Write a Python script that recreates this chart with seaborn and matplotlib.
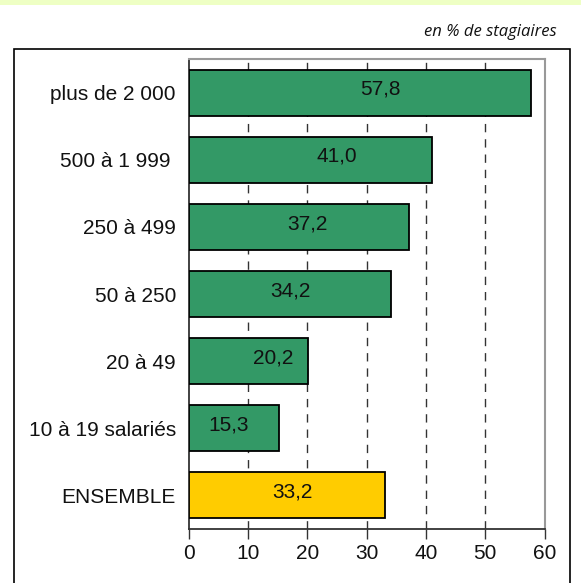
import matplotlib
matplotlib.use('Agg')
import matplotlib.pyplot as plt
import seaborn as sns
import pandas as pd

categories = ['plus de 2 000', '500 à 1 999 ', '250 à 499', '50 à 250',
              '20 à 49', '10 à 19 salariés', 'ENSEMBLE']
values = [57.8, 41.0, 37.2, 34.2, 20.2, 15.3, 33.2]
bar_colors = ['#339966'] * 6 + ['#FFCC00']
# where each value label sits inside its bar (fraction of bar length)
label_frac = [0.56, 0.61, 0.54, 0.50, 0.71, 0.44, 0.53]

df = pd.DataFrame({'cat': categories, 'val': values})

sns.set_theme(style='white')
plt.rcParams['font.family'] = ['Liberation Sans', 'DejaVu Sans']

fig = plt.figure(figsize=(5.81, 5.83), dpi=100)
W, H = 581, 583

# light band at the top (title area cut off)
fig.patches.append(plt.Rectangle((0, 1 - 5 / H), 1, 5 / H, transform=fig.transFigure,
                                 facecolor='#EEFFC4', edgecolor='none', zorder=0))
# outer frame
fig.patches.append(plt.Rectangle((14 / W, -0.01), (570 - 14) / W, (H - 49) / H + 0.01,
                                 transform=fig.transFigure, facecolor='none',
                                 edgecolor='black', linewidth=1.2, zorder=1))

fig.text(557 / W, 1 - 32 / H, 'en % de stagiaires', ha='right', va='center',
         fontsize=12, style='italic', family=['Open Sans', 'DejaVu Sans'], color='#111111')

ax = fig.add_axes([188.5 / W, 1 - 529 / H, (544.5 - 188.5) / W, (529 - 59) / H])

sns.barplot(data=df, x='val', y='cat', hue='cat', palette=bar_colors, legend=False,
            orient='h', width=0.685, saturation=1, edgecolor='black', linewidth=1.3,
            ax=ax, zorder=3)

for i, v in enumerate(values):
    ax.text(v * label_frac[i], i - 0.05, f'{v:.1f}'.replace('.', ','), ha='center',
            va='center', fontsize=15, color='#111111', zorder=4)

ax.set_xlim(0, 60)
ax.set_ylim(6.5, -0.5)
ax.set_xticks(range(0, 61, 10))
for x in range(10, 60, 10):
    ax.axvline(x, color='#333333', linewidth=1, dashes=(6, 5), zorder=1)

ax.set_xlabel('')
ax.set_ylabel('')
ax.tick_params(axis='x', which='both', bottom=True, length=7, width=1, color='#333333',
               direction='out', labelsize=15, pad=4)
ax.tick_params(axis='y', left=False, labelsize=15, pad=3)
for lab in ax.get_yticklabels():
    lab.set_color('#111111')
for lab in ax.get_xticklabels():
    lab.set_color('#111111')

for side in ['top', 'right']:
    ax.spines[side].set_color('#999999')
    ax.spines[side].set_linewidth(1.5)
for side in ['left', 'bottom']:
    ax.spines[side].set_color('#333333')
    ax.spines[side].set_linewidth(1.3)

fig.savefig('out.png', dpi=100)
